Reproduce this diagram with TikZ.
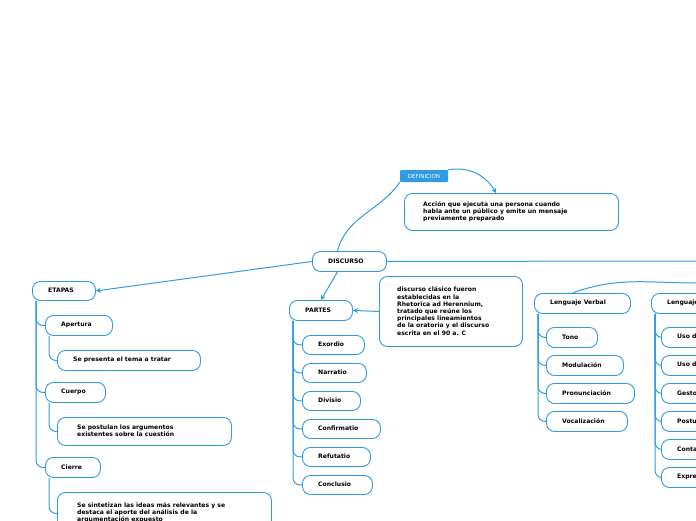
\documentclass[tikz,border=0pt]{standalone}
\usepackage{fontspec}
\setmainfont{DejaVu Sans}
\usetikzlibrary{arrows.meta}
\begin{document}
\begin{tikzpicture}[x=1pt,y=-1pt,
  blue0/.style={draw=lb,line width=0.9pt},
  bx/.style={blue0,rounded corners=8pt,fill=white,inner xsep=0pt,inner ysep=0pt,anchor=north west},
  tx/.style={font=\bfseries\fontsize{6.1}{7.2}\selectfont,align=left,anchor=west,inner sep=0pt},
  ln/.style={draw=lb,line width=1pt},
  tr/.style={ln,rounded corners=7pt},
  arr/.style={ln,-{Stealth[length=5pt,width=5pt]}}]
\definecolor{lb}{HTML}{2F9BE0}
\useasboundingbox (0,0) rectangle (696,520);
\clip (0,0) rectangle (696,520);
\newcommand\bxn[7]{\node[bx,minimum width={#4-#2},minimum height={#5-#3}] (#1) at (#2,#3) {};
  \node[tx] (#1t) at (#2+#6,{(#3+#5)/2}) {#7};}
\coordinate (rend) at (696,261);
\coordinate (rend2) at (696,283);
\bxn{disc}{312}{251}{386}{271}{16}{DISCURSO}
\node[fill=lb,text=white,font=\fontsize{5.5}{6}\selectfont,minimum width=48pt,minimum height=12pt,inner sep=0pt,rounded corners=1pt] (defl) at (424,176) {DEFINICION};
\bxn{def}{404}{193}{618}{230}{19}{Acción que ejecuta una persona cuando\\habla ante un público y emite un mensaje\\previamente preparado}
\bxn{eta}{32}{281}{95}{300}{16}{ETAPAS}
\bxn{ape}{45}{315}{112}{335}{16}{Apertura}
\bxn{pre}{57}{350}{200}{370}{16}{Se presenta el tema a tratar}
\bxn{cue}{45}{382}{105}{402}{16}{Cuerpo}
\bxn{pos}{57}{417}{231}{445}{20}{Se postulan los argumentos\\existentes sobre la cuestión}
\bxn{cie}{45}{457}{100}{477}{16}{Cierre}
\bxn{sin}{57}{492}{271}{534}{20}{Se sintetizan las ideas más relevantes y se\\destaca el aporte del análisis de la\\argumentación expuesto}
\bxn{par}{289}{300}{352}{320}{16}{PARTES}
\bxn{exo}{302}{335}{364}{354}{16}{Exordio}
\bxn{nar}{302}{363}{366}{382}{16}{Narratio}
\bxn{div}{302}{391}{360}{410}{16}{Divisio}
\bxn{con}{302}{419}{380}{438}{16}{Confirmatio}
\bxn{ref}{302}{447}{370}{466}{16}{Refutatio}
\bxn{clu}{302}{475}{372}{494}{16}{Conclusio}
\bxn{not}{379}{276}{522}{346}{18}{discurso clásico fueron\\establecidas en la\\Rhetorica ad Herennium,\\tratado que reúne los\\principales lineamientos\\de la oratoria y el discurso\\escrita en el 90 a. C}
\bxn{lv}{534}{293}{630}{313}{16}{Lenguaje Verbal}
\bxn{ton}{546}{327}{597}{347}{16}{Tono}
\bxn{mod}{546}{355}{623}{375}{16}{Modulación}
\bxn{pro}{546}{383}{634}{403}{16}{Pronunciación}
\bxn{voc}{546}{411}{627}{431}{16}{Vocalización}
\bxn{lnv}{651}{293}{760}{313}{16}{Lenguaje No Verbal}
\bxn{u1}{661}{327}{760}{347}{16}{Uso del espacio}
\bxn{u2}{661}{355}{760}{375}{16}{Uso del tiempo}
\bxn{g}{661}{383}{760}{403}{16}{Gestos}
\bxn{p}{661}{411}{760}{431}{16}{Postura}
\bxn{c}{661}{439}{760}{459}{16}{Contacto visual}
\bxn{e}{661}{467}{760}{487}{16}{Expresión facial}
\draw[ln] (disc.east) -- (rend);
\draw[ln] (lv.north) ++(-10,0) to[out=20,in=180] (rend2);
\draw[ln] (disc.north) ++(-12,0) to[out=75,in=-125] (defl.south west);
\draw[arr] (defl.north east) to[out=10,in=120] (496,193);
\draw[arr] (disc.west) -- (eta.east);
\draw[arr] (disc.south) ++(-12,0) -- (par.north);
\draw[arr] (not.west) -- (par.east);
\foreach \p/\cs in {eta/{ape,cue,cie},par/{exo,nar,div,con,ref,clu},lv/{ton,mod,pro,voc},lnv/{u1,u2,g,p,c,e}}{
  \foreach \ch in \cs {\draw[tr] ([xshift=4pt]\p.south west) |- (\ch.west);}}
\foreach \p/\ch in {ape/pre,cue/pos,cie/sin}{\draw[tr] ([xshift=4pt]\p.south west) |- (\ch.west);}
\end{tikzpicture}
\end{document}
